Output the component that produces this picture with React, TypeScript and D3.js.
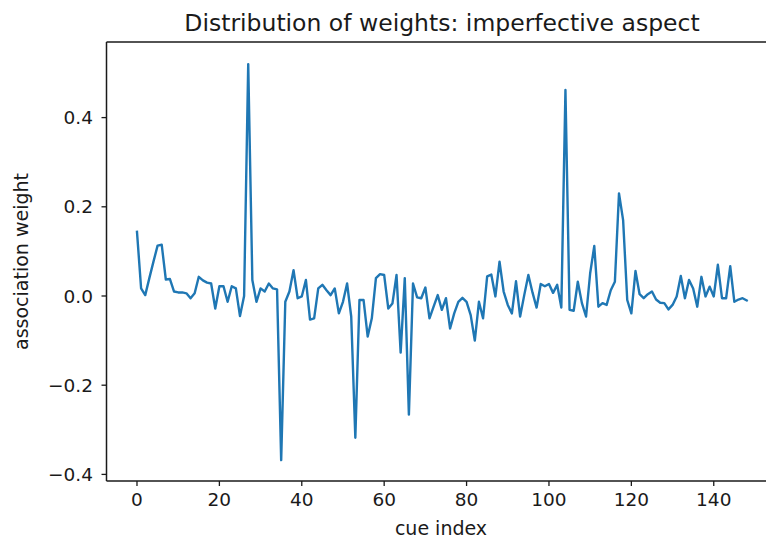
import React from "react";
import * as d3 from "d3";

const weights: number[] = [
  0.144, 0.017, 0.002, 0.04, 0.077, 0.113, 0.115, 0.037, 0.038, 0.01,
  0.008, 0.008, 0.006, -0.005, 0.006, 0.043, 0.035, 0.03, 0.028, -0.028,
  0.022, 0.022, -0.013, 0.022, 0.017, -0.045, 0.0, 0.52, 0.036, -0.013,
  0.017, 0.01, 0.028, 0.017, 0.015, -0.368, -0.013, 0.01, 0.058, -0.005,
  -0.001, 0.036, -0.053, -0.05, 0.017, 0.025, 0.013, 0.002, 0.017, -0.039,
  -0.013, 0.028, -0.046, -0.318, -0.009, -0.009, -0.091, -0.05, 0.04, 0.049,
  0.047, -0.028, -0.017, 0.047, -0.127, 0.04, -0.266, 0.028, -0.003, -0.005,
  0.019, -0.05, -0.024, 0.002, -0.031, -0.005, -0.073, -0.039, -0.013, -0.004,
  -0.013, -0.043, -0.1, -0.013, -0.05, 0.044, 0.048, -0.001, 0.077, 0.01,
  -0.02, -0.039, 0.033, -0.046, 0.002, 0.047, 0.008, -0.026, 0.027, 0.022,
  0.027, 0.007, 0.025, -0.026, 0.462, -0.031, -0.033, 0.032, -0.016, -0.046,
  0.051, 0.112, -0.024, -0.016, -0.02, 0.013, 0.032, 0.23, 0.17, -0.009,
  -0.039, 0.056, 0.004, -0.005, 0.004, 0.01, -0.008, -0.015, -0.016, -0.03,
  -0.02, -0.001, 0.045, -0.005, 0.036, 0.017, -0.024, 0.043, -0.001, 0.021,
  -0.001, 0.07, -0.005, -0.005, 0.067, -0.013, -0.008, -0.005, -0.01,
];

const xTicks: number[] = [0, 20, 40, 60, 80, 100, 120, 140];
const yTicks: number[] = [-0.4, -0.2, 0.0, 0.2, 0.4];

const title = "Distribution of weights: imperfective aspect";
const xLabel = "cue index";
const yLabel = "association weight";

const W = 766;
const H = 541;
const left = 106.5;
const right = 777.2;
const top = 42;
const bottom = 481;

const fmt = (v: number) => {
  const s = v.toFixed(1);
  return v < 0 ? "\u2212" + s.slice(1) : s;
};

export default function App() {
  const x = d3.scaleLinear().domain([-7.4, 155.4]).range([left, right]);
  const y = d3.scaleLinear().domain([-0.4148, 0.5695]).range([bottom, top]);
  const line = d3
    .line<number>()
    .x((_, i) => x(i))
    .y((d) => y(d));
  const font = "'DejaVu Sans', sans-serif";
  const ink = "#1a1a1a";
  return (
    <svg
      width={W}
      height={H}
      style={{ position: "absolute", left: 0, top: 0, background: "#fff" }}
      fontFamily={font}
    >
      <rect x={0} y={0} width={W} height={H} fill="#fff" />
      <defs>
        <clipPath id="plot">
          <rect x={left} y={top} width={right - left} height={bottom - top} />
        </clipPath>
      </defs>
      <path
        d={line(weights) || ""}
        fill="none"
        stroke="#1f77b4"
        strokeWidth={2.4}
        strokeLinejoin="round"
        strokeLinecap="square"
        clipPath="url(#plot)"
      />
      {/* spines */}
      <line x1={left} x2={left} y1={top} y2={bottom} stroke={ink} strokeWidth={1.5} />
      <line x1={left} x2={W} y1={bottom} y2={bottom} stroke={ink} strokeWidth={1.5} />
      <line x1={left} x2={W} y1={top} y2={top} stroke={ink} strokeWidth={1.5} />
      {/* x ticks */}
      {xTicks.map((t) => (
        <g key={"x" + t}>
          <line x1={x(t)} x2={x(t)} y1={bottom} y2={bottom + 5} stroke={ink} strokeWidth={1.3} />
          <text x={x(t)} y={506} textAnchor="middle" fontSize={18.5} fill={ink}>
            {t}
          </text>
        </g>
      ))}
      {/* y ticks */}
      {yTicks.map((t) => (
        <g key={"y" + t}>
          <line x1={left - 5} x2={left} y1={y(t)} y2={y(t)} stroke={ink} strokeWidth={1.3} />
          <text
            x={93}
            y={y(t)}
            dy="0.36em"
            textAnchor="end"
            fontSize={18.5}
            fill={ink}
          >
            {fmt(t)}
          </text>
        </g>
      ))}
      <text x={442} y={31} textAnchor="middle" fontSize={23.5} fill={ink}>
        {title}
      </text>
      <text x={441} y={535} textAnchor="middle" fontSize={19} fill={ink}>
        {xLabel}
      </text>
      <text
        transform={`translate(28, ${(top + bottom) / 2}) rotate(-90)`}
        textAnchor="middle"
        fontSize={19}
        fill={ink}
      >
        {yLabel}
      </text>
    </svg>
  );
}
